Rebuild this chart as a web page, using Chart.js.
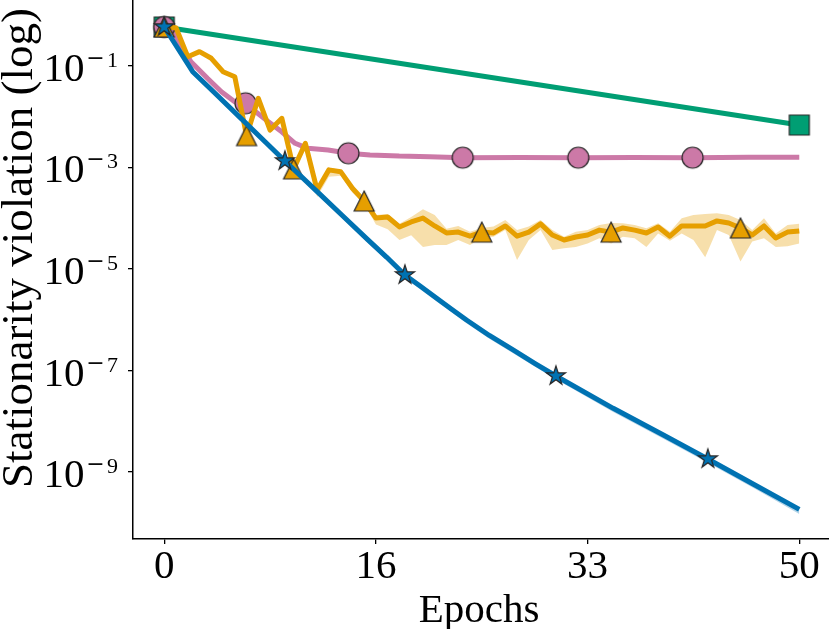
<!DOCTYPE html>
<html>
<head>
<meta charset="utf-8">
<script src="https://cdn.jsdelivr.net/npm/chart.js@4.4.1/dist/chart.umd.min.js"></script>
<style>
    html, body { margin: 0; padding: 0; background: #fff; }
    #wrap { width: 829px; height: 629px; }
</style>
</head>
<body>
<div id="wrap"><canvas id="graficaStationarity" width="829" height="629"></canvas></div>
<script>
// --- DATOS ---
const xTicks = [0, 16.667, 33.333, 50];
const xTickLabels = ['0', '16', '33', '50'];
const yTicks = [1e-1, 1e-3, 1e-5, 1e-7, 1e-9];
const yTickExponents = ['1', '3', '5', '7', '9'];

// verde: sólo inicio y final
const greenEpochs = [0, 50];
const greenValues = [0.578, 6.8e-3];
const greenMarks = [0, 1];

// rosa
const pinkEpochs = [0, 0.85, 2.1, 3.4, 4.5, 5.6, 6.4, 7.2, 8.2, 9.25, 10.3, 11.3, 12.9, 14.5,
    16.2, 18.5, 20.9, 23.5, 28, 32.6, 37, 41.6, 46, 50];
const pinkValues = [0.578, 0.40, 0.12, 0.0565, 0.0308, 0.019, 0.0182, 0.0124, 7.9e-3, 5.0e-3,
    2.97e-3, 2.36e-3, 2.19e-3, 1.89e-3, 1.75e-3, 1.66e-3, 1.62e-3, 1.55e-3, 1.56e-3, 1.55e-3,
    1.56e-3, 1.55e-3, 1.57e-3, 1.57e-3];
const pinkMarks = [0, 6, 13, 17, 19, 21];

// naranja: 55 evaluaciones entre 0 y 50 épocas
const orangeEpochs = Array.from({ length: 55 }, (_, i) => i * 50 / 54);
const orangeValues = [
    0.578, 0.56, 0.150, 0.189, 0.140, 0.0762, 0.0607, 4.2e-3, 0.0228, 5.4e-3,
    9.2e-3, 9.3e-4, 2.96e-3, 3.57e-4, 8.9e-4, 8.2e-4, 3.86e-4, 2.17e-4, 1.0e-4, 1.05e-4,
    6.7e-5, 8.4e-5, 1.0e-4, 7.0e-5, 5.1e-5, 5.3e-5, 4.4e-5, 5.3e-5, 5.1e-5, 7.0e-5,
    4.4e-5, 5.3e-5, 7.7e-5, 4.65e-5, 3.7e-5, 4.25e-5, 4.65e-5, 5.8e-5, 5.3e-5, 6.4e-5,
    5.8e-5, 5.1e-5, 6.7e-5, 4.4e-5, 7.0e-5, 7.0e-5, 7.0e-5, 8.8e-5, 8.0e-5, 6.4e-5,
    4.65e-5, 7.0e-5, 4.05e-5, 5.3e-5, 5.6e-5
];
const orangeLow = [
    0.56, 0.53, 0.139, 0.176, 0.130, 0.070, 0.056, 3.8e-3, 0.021, 4.9e-3,
    8.4e-3, 8.4e-4, 2.6e-3, 2.6e-4, 6.5e-4, 6.8e-4, 3.2e-4, 1.9e-4, 7.5e-5, 6.0e-5,
    3.7e-5, 4.6e-5, 2.7e-5, 2.95e-5, 2.95e-5, 3.7e-5, 2.95e-5, 4.05e-5, 4.3e-5, 5.8e-5,
    1.5e-5, 3.7e-5, 5.8e-5, 2.35e-5, 2.55e-5, 2.7e-5, 3.15e-5, 4.0e-5, 3.15e-5, 4.3e-5,
    4.0e-5, 2.7e-5, 5.0e-5, 3.6e-5, 5.0e-5, 3.7e-5, 1.7e-5, 5.8e-5, 4.65e-5, 1.4e-5,
    3.45e-5, 4.0e-5, 2.7e-5, 2.8e-5, 3.15e-5
];
const orangeHigh = [
    0.60, 0.59, 0.162, 0.203, 0.151, 0.082, 0.066, 4.6e-3, 0.025, 5.9e-3,
    1.0e-2, 1.02e-3, 3.3e-3, 4.0e-4, 9.8e-4, 9.0e-4, 4.3e-4, 2.45e-4, 1.15e-4, 1.2e-4,
    7.7e-5, 1.05e-4, 1.5e-4, 1.15e-4, 6.2e-5, 7.0e-5, 5.4e-5, 6.4e-5, 6.8e-5, 9.2e-5,
    5.8e-5, 6.8e-5, 9.2e-5, 5.8e-5, 4.3e-5, 5.4e-5, 5.8e-5, 7.3e-5, 8.0e-5, 7.9e-5,
    7.3e-5, 6.3e-5, 7.9e-5, 5.4e-5, 9.9e-5, 1.15e-4, 1.2e-4, 1.25e-4, 1.15e-4, 9.2e-5,
    5.8e-5, 9.9e-5, 5.0e-5, 7.3e-5, 7.7e-5
];
const orangeMarks = [0, 7, 11, 17, 27, 38, 49];

// azul
const blueEpochs = [0, 2.24, 4, 6, 8, 9.5, 12, 14, 16, 17.5, 18.95, 20.2, 21.45, 22.6, 23.8,
    25.6, 27.5, 29.2, 30.84, 35.35, 39.3, 42.8, 46.4, 50];
const blueValues = [0.578, 0.0762, 0.0286, 9.4e-3, 3.08e-3, 1.33e-3, 3.39e-4, 1.14e-4, 3.81e-5,
    1.71e-5, 7.59e-6, 4.51e-6, 2.64e-6, 1.63e-6, 9.86e-7, 4.89e-7, 2.53e-7, 1.37e-7, 7.8e-8,
    1.80e-8, 5.37e-9, 1.81e-9, 5.78e-10, 1.85e-10];
const blueLow = [0.56, 0.072, 0.027, 8.8e-3, 2.85e-3, 1.22e-3, 3.05e-4, 1.0e-4, 3.35e-5,
    1.48e-5, 6.6e-6, 3.9e-6, 2.28e-6, 1.41e-6, 8.5e-7, 4.2e-7, 2.17e-7, 1.18e-7, 6.7e-8,
    1.53e-8, 4.55e-9, 1.53e-9, 4.85e-10, 1.5e-10];
const blueHigh = [0.60, 0.080, 0.030, 9.9e-3, 3.3e-3, 1.43e-3, 3.65e-4, 1.23e-4, 4.1e-5,
    1.84e-5, 8.2e-6, 4.85e-6, 2.85e-6, 1.75e-6, 1.06e-6, 5.25e-7, 2.72e-7, 1.47e-7, 8.4e-8,
    1.94e-8, 5.8e-9, 1.95e-9, 6.25e-10, 2.0e-10];
const blueMarks = [0, 5, 10, 18, 21];

// --- COLORES ---
const BLUE = '#0072B2', ORANGE = '#E69F00', GREEN = '#009E73', PINK = '#CC79A7';
const SERIF = '"Liberation Serif", "Times New Roman", serif';

// marcadores estilo matplotlib dibujados en un canvas pequeño
function markerCanvas(shape, size, fill) {
    const pad = 3;
    const dim = Math.ceil(size + 2 * pad);
    const c = document.createElement('canvas');
    c.width = dim; c.height = dim;
    const g = c.getContext('2d');
    const m = dim / 2, h = size / 2;
    g.beginPath();
    if (shape === 'square') {
        g.rect(m - h, m - h, size, size);
    } else if (shape === 'circle') {
        g.arc(m, m, h, 0, Math.PI * 2);
    } else if (shape === 'triangle') {
        g.moveTo(m, m - h); g.lineTo(m + h, m + h); g.lineTo(m - h, m + h); g.closePath();
    } else if (shape === 'star') {
        for (let i = 0; i < 10; i++) {
            const r = i % 2 ? h * 0.381966 : h;
            const a = Math.PI / 2 + i * Math.PI / 5;
            const px = m + r * Math.cos(a), py = m - r * Math.sin(a);
            if (i === 0) g.moveTo(px, py); else g.lineTo(px, py);
        }
        g.closePath();
    }
    g.fillStyle = fill; g.fill();
    g.lineWidth = 1.2; g.strokeStyle = '#262626'; g.lineJoin = 'miter';
    g.stroke();
    return c;
}

function pts(xs, ys) { return xs.map((x, i) => ({ x: x, y: ys[i] })); }

function lineSet(xs, ys, color, marker, marks, order) {
    return {
        data: pts(xs, ys),
        borderColor: color,
        backgroundColor: color,
        borderWidth: 5,
        borderJoinStyle: 'round',
        tension: 0,
        fill: false,
        order: order,
        pointStyle: marker,
        pointRadius: ctx => marks.includes(ctx.dataIndex) ? 10 : 0
    };
}

function bandSets(xs, hi, lo, rgba, order) {
    return [
        { data: pts(xs, hi), borderColor: 'transparent', borderWidth: 0, pointRadius: 0,
          backgroundColor: rgba, fill: '+1', tension: 0, order: order },
        { data: pts(xs, lo), borderColor: 'transparent', borderWidth: 0, pointRadius: 0,
          fill: false, tension: 0, order: order + 1 }
    ];
}

// --- ETIQUETAS (texto tipo LaTeX) ---
const textPlugin = {
    id: 'textoEjes',
    afterDraw(chart) {
        const ctx = chart.ctx;
        const sx = chart.scales.x, sy = chart.scales.y;
        ctx.save();
        ctx.fillStyle = '#000';
        ctx.textBaseline = 'alphabetic';

        // eje y: 10^{-k}
        yTicks.forEach((v, i) => {
            const py = sy.getPixelForValue(v);
            ctx.textAlign = 'right';
            ctx.font = '22px ' + SERIF;
            ctx.fillText(yTickExponents[i], 118, py + 1);
            ctx.textAlign = 'center';
            ctx.font = '22px "DejaVu Serif"';
            ctx.fillText('\u2212', 95.5, py - 1);
            ctx.textAlign = 'right';
            ctx.font = '41px ' + SERIF;
            ctx.fillText('10', 84.5, py + 15);
        });

        // eje x
        ctx.textAlign = 'center';
        ctx.font = '41px ' + SERIF;
        xTicks.forEach((v, i) => {
            ctx.fillText(xTickLabels[i], sx.getPixelForValue(v), 578);
        });
        ctx.fillText('Epochs', 479, 622);

        // título eje y
        ctx.translate(32, 248);
        ctx.rotate(-Math.PI / 2);
        ctx.font = '45px ' + SERIF;
        ctx.fillText('Stationarity violation (log)', 0, 0);
        ctx.restore();
    }
};

document.addEventListener('DOMContentLoaded', function () {
    const ctx = document.getElementById('graficaStationarity').getContext('2d');
    const datasets = [
        lineSet(blueEpochs, blueValues, BLUE, markerCanvas('star', 20, BLUE), blueMarks, 1),
        lineSet(orangeEpochs, orangeValues, ORANGE, markerCanvas('triangle', 20, ORANGE), orangeMarks, 2),
        lineSet(pinkEpochs, pinkValues, PINK, markerCanvas('circle', 21, PINK), pinkMarks, 3),
        lineSet(greenEpochs, greenValues, GREEN, markerCanvas('square', 20, GREEN), greenMarks, 4),
        ...bandSets(blueEpochs, blueHigh, blueLow, 'rgba(0,114,178,0.3)', 5),
        ...bandSets(orangeEpochs, orangeHigh, orangeLow, 'rgba(230,159,0,0.33)', 7)
    ];

    const gridOpts = { display: true, drawOnChartArea: false, drawTicks: true, tickLength: 5, color: '#000', lineWidth: 1.3 };
    const borderOpts = { display: true, color: '#000', width: 1.5 };

    new Chart(ctx, {
        type: 'line',
        data: { datasets: datasets },
        options: {
            responsive: false,
            animation: false,
            devicePixelRatio: 1,
            events: [],
            layout: { padding: 0, autoPadding: false },
            plugins: { legend: { display: false }, tooltip: { enabled: false } },
            scales: {
                x: {
                    type: 'linear',
                    bounds: 'data',
                    min: -2.46,
                    max: 52.34,
                    afterBuildTicks: s => { s.ticks = xTicks.map(v => ({ value: v })); },
                    afterFit: s => { s.height = 90; },
                    ticks: { display: false },
                    grid: gridOpts,
                    border: borderOpts
                },
                y: {
                    type: 'logarithmic',
                    bounds: 'data',
                    min: 4.82e-11,
                    max: 1.965,
                    afterBuildTicks: s => { s.ticks = yTicks.map(v => ({ value: v, major: true })); },
                    afterFit: s => { s.width = 133; },
                    ticks: { display: false },
                    grid: gridOpts,
                    border: borderOpts
                }
            }
        },
        plugins: [textPlugin]
    });
});
</script>
</body>
</html>
